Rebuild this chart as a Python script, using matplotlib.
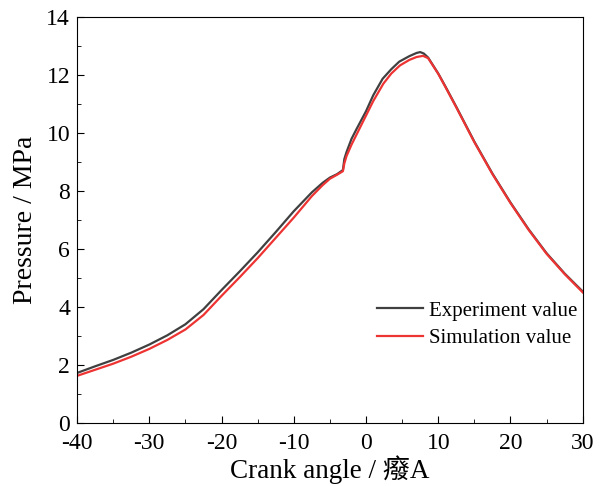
import numpy as np
import matplotlib
matplotlib.use("Agg")
import matplotlib.pyplot as plt
from matplotlib.ticker import MultipleLocator

plt.rcParams['font.family'] = ['Liberation Serif', 'Noto Sans CJK SC']
plt.rcParams['axes.unicode_minus'] = False

# Experiment curve (crank angle, pressure)
exp_angle = [-40, -37.5, -35, -32.5, -30, -27.5, -25, -22.5, -20, -17.5, -15,
             -12.5, -10, -7.5, -6, -5, -4, -3.2, -3.0, -2.7, -2.0, -1.3, 0, 1,
             2.3, 3.5, 4.6, 6, 7.0, 7.5, 8.0, 8.6, 10, 11, 12.5, 14, 15, 17.5,
             20, 22.5, 25, 27.5, 30]
exp_pressure = [1.72, 1.95, 2.17, 2.42, 2.7, 3.02, 3.4, 3.92, 4.58, 5.22, 5.88,
                6.58, 7.3, 7.95, 8.28, 8.46, 8.58, 8.72, 9.1, 9.34, 9.8, 10.14,
                10.75, 11.3, 11.87, 12.2, 12.46, 12.65, 12.76, 12.79, 12.74, 12.6,
                12.05, 11.6, 10.9, 10.18, 9.7, 8.6, 7.6, 6.68, 5.85, 5.15, 4.53]

# Simulation curve
sim_angle = [-40, -37.5, -35, -32.5, -30, -27.5, -25, -22.5, -20, -17.5, -15,
             -12.5, -10, -7.5, -6, -5, -4, -3.2, -3.0, -2.7, -2.0, -1.0, 0, 1,
             2.4, 3.5, 4.7, 6, 7.0, 7.9, 8.6, 10, 11, 12.5, 14, 15, 17.5, 20,
             22.5, 25, 27.5, 30]
sim_pressure = [1.62, 1.83, 2.04, 2.28, 2.55, 2.86, 3.22, 3.72, 4.38, 5.02, 5.68,
                6.38, 7.08, 7.82, 8.2, 8.42, 8.56, 8.68, 8.95, 9.2, 9.6, 10.1,
                10.6, 11.1, 11.7, 12.05, 12.33, 12.52, 12.62, 12.66, 12.58, 12.04,
                11.58, 10.88, 10.16, 9.68, 8.58, 7.58, 6.66, 5.83, 5.13, 4.5]

fig = plt.figure(figsize=(6.02, 4.86), dpi=100)
ax = fig.add_axes([0.128, 0.130, 0.840, 0.835])

ax.plot(exp_angle, exp_pressure, color='#404040', lw=1.6, label='Experiment value')
ax.plot(sim_angle, sim_pressure, color='#ee3333', lw=1.6, label='Simulation value')

ax.set_xlim(-40, 30)
ax.set_ylim(0, 14)
ax.xaxis.set_major_locator(MultipleLocator(10))
ax.xaxis.set_minor_locator(MultipleLocator(5))
ax.yaxis.set_major_locator(MultipleLocator(2))
ax.yaxis.set_minor_locator(MultipleLocator(1))
ax.tick_params(which='both', direction='in', top=False, right=False, labelsize=17)
ax.tick_params(axis='x', which='major', length=5, pad=7.5)
ax.tick_params(axis='y', which='major', length=5, pad=5)
ax.tick_params(which='minor', length=3)

ax.set_xlabel('Crank angle / 癈A', fontsize=19.5, labelpad=1)
ax.set_ylabel('Pressure / MPa', fontsize=20, labelpad=6)

ax.legend(loc='lower right', bbox_to_anchor=(1.026, 0.138), frameon=False,
          fontsize=15, handlelength=2.2, handletextpad=0.3, labelspacing=0.38)

fig.savefig('out.png', dpi=100)
